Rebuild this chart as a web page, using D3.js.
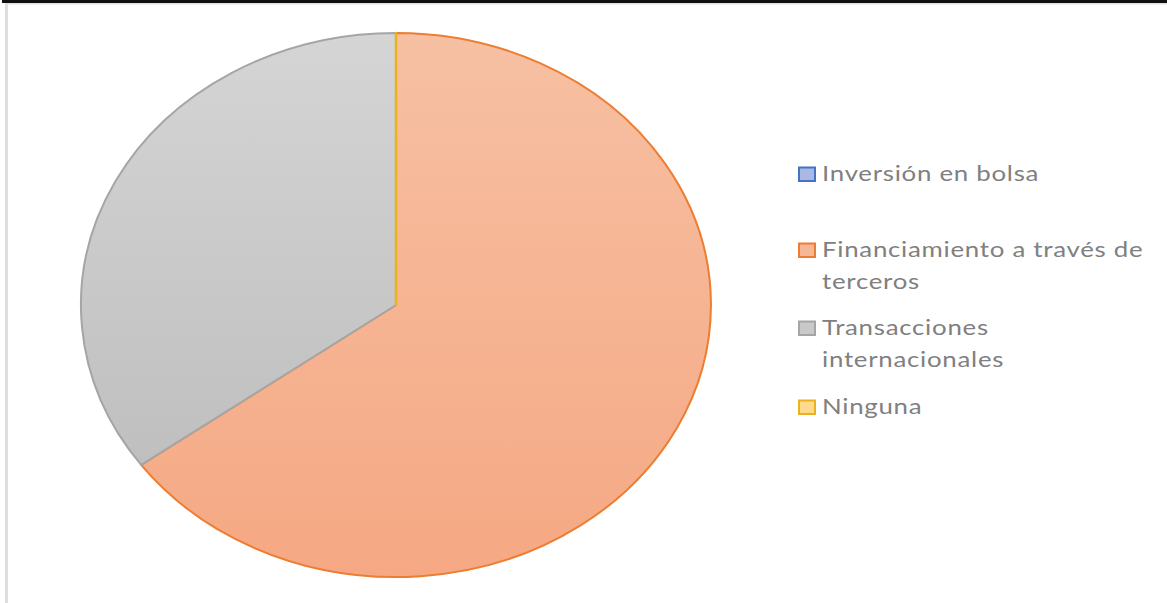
<!DOCTYPE html>
<html><head><meta charset="utf-8">
<script src="https://cdn.jsdelivr.net/npm/d3@7"></script>
<style>body{margin:0;background:#fff}svg{display:block}</style>
</head><body>
<svg id="c" width="1167" height="603"></svg>
<script>
const categories = ["Inversión en bolsa", "Financiamiento a través de terceros", "Transacciones internacionales", "Ninguna"];
const values = [0, 65, 35, 0];
const legendLines = [["Inversión en bolsa"], ["Financiamiento a través de", "terceros"], ["Transacciones", "internacionales"], ["Ninguna"]];

const fillTop = ["#b4c3e8", "#f7c0a3", "#d5d5d5", "#ffdf95"];
const fillBot = ["#9db0e0", "#f5a883", "#bfbfbf", "#ffd070"];
const strokes = ["#4472c4", "#ed7d31", "#a5a5a5", "#e8b31c"];
const legFill = ["#a9b9e3", "#f5b797", "#c9c9c9", "#ffd98c"];

const svg = d3.select("#c");
// frame
svg.append("rect").attr("x", 2).attr("y", 0).attr("width", 1165).attr("height", 3).attr("fill", "#111");
svg.append("rect").attr("x", 5).attr("y", 3).attr("width", 1162).attr("height", 1.5).attr("fill", "#e2e2e2");
svg.append("rect").attr("x", 5).attr("y", 3).attr("width", 3).attr("height", 600).attr("fill", "#dedede");

const defs = svg.append("defs");
categories.forEach((c, i) => {
  const g = defs.append("linearGradient").attr("id", "g" + i).attr("x1", 0).attr("y1", 0).attr("x2", 0).attr("y2", 1);
  g.append("stop").attr("offset", "0%").attr("stop-color", fillTop[i]);
  g.append("stop").attr("offset", "100%").attr("stop-color", fillBot[i]);
});

const cx = 396, cy = 305, rx = 315, ry = 272;
const pie = d3.pie().sort(null).value(d => d);
const arc = d3.arc().innerRadius(0).outerRadius(1);
const arcs = pie(values);

const pg = svg.append("g").attr("transform", `translate(${cx},${cy}) scale(${rx},${ry})`);
pg.selectAll("path").data(arcs).join("path")
  .attr("d", arc)
  .attr("fill", (d, i) => `url(#g${i})`)
  .attr("stroke", (d, i) => strokes[i])
  .attr("stroke-width", (d, i) => i === 3 ? 2.5 : 2)
  .attr("vector-effect", "non-scaling-stroke")
  .attr("stroke-linejoin", "round");

// legend
const ly = [174, 250, 328, 407];
const lg = svg.append("g");
categories.forEach((c, i) => {
  lg.append("rect").attr("x", 799).attr("y", ly[i] - 6.5).attr("width", 16).attr("height", 13.5)
    .attr("fill", legFill[i]).attr("stroke", strokes[i]).attr("stroke-width", 2);
  legendLines[i].forEach((t, j) => {
    lg.append("text")
      .attr("transform", `translate(822,${ly[i] + j * 32}) scale(1.23,1)`)
      .attr("dy", "0.35em")
      .attr("font-family", "Lato, 'Open Sans', sans-serif").attr("font-size", 21)
      .attr("letter-spacing", 0.6)
      .attr("fill", "#808080").text(t);
  });
});
</script>
</body></html>
